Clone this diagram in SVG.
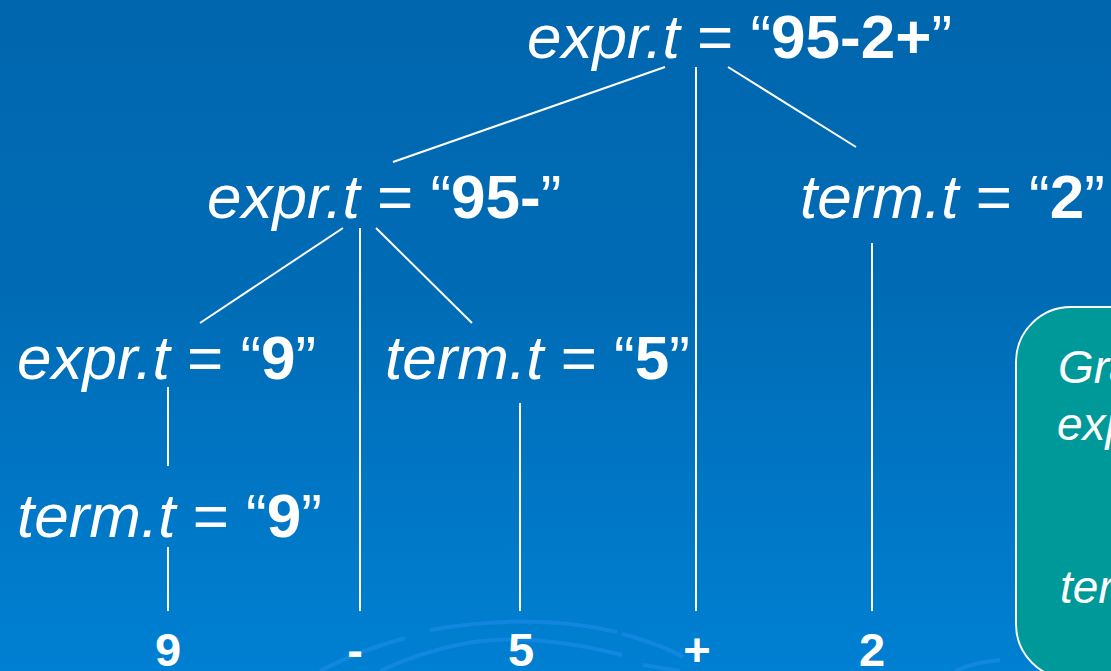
<svg xmlns="http://www.w3.org/2000/svg" width="1111" height="671" viewBox="0 0 1111 671">
<defs>
<linearGradient id="bg" x1="0" y1="0" x2="0" y2="1">
<stop offset="0" stop-color="#0066AE"/>
<stop offset="0.45" stop-color="#006CB6"/>
<stop offset="1" stop-color="#0080D3"/>
</linearGradient>
</defs>
<style>
text{font-family:"Liberation Sans",Arial,sans-serif;fill:#fff;white-space:pre}
.lbl{font-size:62px}
.i{font-style:italic}
.b{font-weight:bold}
.leaf{font-size:47px;font-weight:bold;text-anchor:middle}
.note{font-size:46px;font-style:italic}
.edge{stroke:#fff;stroke-width:2;fill:none}
.arc{stroke:#1A8AE6;stroke-width:4;fill:none;opacity:0.7}
</style>
<rect x="0" y="0" width="1111" height="671" fill="url(#bg)"/>
<g id="decor">
<path class="arc" d="M430,630 Q533,612 617,632"/>
<path class="arc" d="M622,634 Q660,644 683,657"/>
<path class="arc" d="M380,671 Q420,652 467,643 Q533,632 622,655"/>
<path class="arc" d="M320,671 Q360,650 405,638"/>
<path class="arc" d="M643,665 L680,671"/>
<path class="arc" d="M955,671 Q975,662 1000,660"/>
</g>
<g id="connectors">
<line class="edge" x1="665" y1="67" x2="393" y2="162"/>
<line class="edge" x1="696" y1="67" x2="696" y2="611"/>
<line class="edge" x1="728" y1="67" x2="856" y2="147"/>
<line class="edge" x1="343" y1="228" x2="200" y2="323"/>
<line class="edge" x1="360" y1="228" x2="360" y2="611"/>
<line class="edge" x1="376" y1="228" x2="472" y2="323"/>
<line class="edge" x1="168" y1="387" x2="168" y2="466"/>
<line class="edge" x1="168" y1="547" x2="168" y2="611"/>
<line class="edge" x1="520" y1="403" x2="520" y2="611"/>
<line class="edge" x1="872" y1="243" x2="872" y2="611"/>
</g>
<g id="root"><text class="lbl" x="527" y="58"><tspan class="i">expr.t</tspan> = “<tspan class="b">95-2+</tspan>”</text></g>
<g id="expr95"><text class="lbl" x="207" y="218"><tspan class="i">expr.t</tspan> = “<tspan class="b">95-</tspan>”</text></g>
<g id="term2"><text class="lbl" x="800" y="218"><tspan class="i">term.t</tspan> = “<tspan class="b">2</tspan>”</text></g>
<g id="expr9"><text class="lbl" x="17" y="379"><tspan class="i">expr.t</tspan> = “<tspan class="b">9</tspan>”</text></g>
<g id="term5"><text class="lbl" x="385" y="379"><tspan class="i">term.t</tspan> = “<tspan class="b">5</tspan>”</text></g>
<g id="term9"><text class="lbl" x="17" y="537"><tspan class="i">term.t</tspan> = “<tspan class="b">9</tspan>”</text></g>
<g id="leaf9"><text class="leaf" x="168" y="666">9</text></g>
<g id="leafminus"><text class="leaf" x="355" y="666">-</text></g>
<g id="leaf5"><text class="leaf" x="521" y="666">5</text></g>
<g id="leafplus"><text class="leaf" x="697" y="666">+</text></g>
<g id="leaf2"><text class="leaf" x="872" y="666">2</text></g>
<g id="grammar">
<rect x="1016" y="307" width="220" height="372" rx="55" ry="55" fill="#00999A" stroke="#fff" stroke-width="2"/>
<text class="note" x="1058" y="383">Gra</text>
<text class="note" x="1057" y="440">exp</text>
<text class="note" x="1060" y="603">ter</text>
</g>
</svg>
